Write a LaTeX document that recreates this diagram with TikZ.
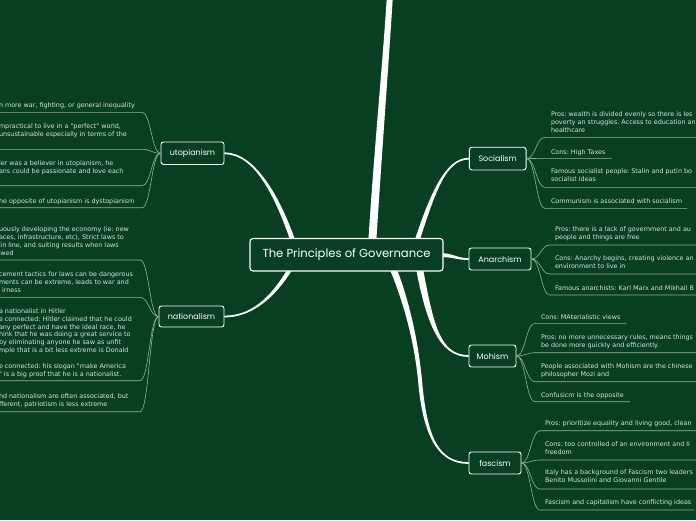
\documentclass[tikz,border=0pt]{standalone}
\usepackage{fontspec}
\setmainfont{DejaVu Sans}
\newfontfamily\itemfont{DejaVu Sans}
\newfontfamily\labelfont{Poppins}
\usetikzlibrary{calc}
\definecolor{bgcol}{RGB}{7,63,32}
\definecolor{txtcol}{RGB}{218,226,218}
\definecolor{brcol}{RGB}{150,176,156}
\pgfdeclarelayer{bglayer}
\pgfdeclarelayer{linelayer}
\pgfsetlayers{bglayer,linelayer,main}
\newcommand{\mmband}[6]{\fill[mainline] ($(#1)+(#5)$) .. controls ($(#2)+(#5)$) and ($(#3)+(#6)$) .. ($(#4)+(#6)$) -- ($(#4)-(#6)$) .. controls ($(#3)-(#6)$) and ($(#2)-(#5)$) .. ($(#1)-(#5)$) -- cycle;}
\newcommand{\leftbranch}[4]{\coordinate (#2a) at (#4,#3); \coordinate (#2b) at (-5,#3);
  \draw[branch] (#1.west) .. controls +(-9,0) and +(9,0) .. (#2a) -- (#2b);}
\newcommand{\rightbranch}[5]{\coordinate (#2a) at (#4,#3); \coordinate (#2b) at (#5,#3);
  \draw[branch] (#1.east) .. controls +(9,0) and +(-9,0) .. (#2a) -- (#2b);}
\begin{document}
\frenchspacing
\begin{tikzpicture}[x=1pt,y=-1pt,
  itemtext/.style={anchor=north west, inner sep=0pt, outer sep=0pt, align=left, text=txtcol,
    font=\itemfont\fontsize{6.4}{7.85}\selectfont\frenchspacing, execute at begin node=\strut},
  topic/.style={draw=white, line width=0.9pt, rounded corners=2.5pt, fill=bgcol, text=white,
    inner sep=0pt, font=\labelfont\fontsize{8}{9}\selectfont},
  branch/.style={draw=brcol, line width=0.6pt},
  mainline/.style={fill=white}]
\useasboundingbox (0,0) rectangle (696,520);
\begin{pgfonlayer}{bglayer}
\fill[bgcol] (0,0) rectangle (696,520);
\end{pgfonlayer}

% topic nodes
\node[topic, line width=1.1pt, rounded corners=3pt, minimum width=193pt, minimum height=32.5pt,
  font=\labelfont\fontsize{11.6}{13}\selectfont] (ctr) at (346.5,254.75) {The Principles of Governance};
\node[topic, minimum width=63pt, minimum height=22.5pt] (uto) at (192.5,153.25) {utopianism};
\node[topic, minimum width=65pt, minimum height=21pt] (nat) at (191.5,316.5) {nationalism};
\node[topic, minimum width=56.7pt, minimum height=22.7pt] (soc) at (497.7,158.6) {Socialism};
\node[topic, minimum width=62pt, minimum height=22pt] (ana) at (500,259) {Anarchism};
\node[topic, minimum width=47pt, minimum height=22pt] (moh) at (492.5,356) {Mohism};
\node[topic, minimum width=52pt, minimum height=22pt] (fas) at (495,463) {fascism};

% main connectors (tapered)
\begin{pgfonlayer}{linelayer}
\coordinate (topend) at (390,-6);
\coordinate (cTop) at (372,246);
\coordinate (cU) at (294,244);
\coordinate (cN) at (292,266);
\coordinate (cS) at (416,244);
\coordinate (cA) at (438,255);
\coordinate (cM) at (419,266);
\coordinate (cF) at (392,266);
\mmband{cTop}{378,150}{386,60}{topend}{4,0}{3,0}
\mmband{cU}{278,197}{255,153.25}{uto.east}{2.5,0}{0,-0.9}
\mmband{cN}{272,300}{250,316.5}{nat.east}{-2.5,0}{0,-0.9}
\mmband{cS}{432,195}{445,158.6}{soc.west}{2.5,0}{0,0.9}
\mmband{cA}{455,255}{455,259}{ana.west}{0,2}{0,0.9}
\mmband{cM}{430,325}{440,356}{moh.west}{-3.5,0}{0,0.9}
\fill[mainline] ($(cF)+(-3.5,0)$) .. controls (398.5,290) and (413,330) .. (418,380)
  .. controls (423,440) and (440,463.9) .. ($(fas.west)+(0,0.9)$) -- ($(fas.west)-(0,0.9)$)
  .. controls (440,462.1) and (427,440) .. (422,380)
  .. controls (417,330) and (405.5,290) .. ($(cF)+(3.5,0)$) -- cycle;
\end{pgfonlayer}

% branches
\leftbranch{uto}{u1}{112.3}{142}
\leftbranch{uto}{u2}{149.3}{142}
\leftbranch{uto}{u3}{185.7}{142}
\leftbranch{uto}{u4}{207.7}{142}
\leftbranch{nat}{n1}{260}{140}
\leftbranch{nat}{n2}{297.3}{140}
\leftbranch{nat}{n3}{380.7}{140}
\leftbranch{nat}{n4}{411.7}{140}
\rightbranch{soc}{s1}{137.3}{545}{700}
\rightbranch{soc}{s2}{158.3}{545}{611.7}
\rightbranch{soc}{s3}{187.3}{545}{700}
\rightbranch{soc}{s4}{208.3}{545}{687}
\rightbranch{ana}{a1}{245}{550}{700}
\rightbranch{ana}{a2}{274}{550}{700}
\rightbranch{ana}{a3}{295}{550}{700}
\rightbranch{moh}{m1}{323.3}{535}{626.7}
\rightbranch{moh}{m2}{352.7}{535}{700}
\rightbranch{moh}{m3}{381.7}{535}{700}
\rightbranch{moh}{m4}{401.7}{535}{630}
\rightbranch{fas}{f1}{430.7}{540}{700}
\rightbranch{fas}{f2}{460}{540}{700}
\rightbranch{fas}{f3}{489}{540}{700}
\rightbranch{fas}{f4}{510}{540}{694}

% left texts
\node[itemtext] (tu1) at (-1,102.5) {n more war, fighting, or general inequality};
\node[itemtext] (tu2) at (-1,124.1) {mpractical to live in a "perfect" world,\\unsustainable especially in terms of the};
\node[itemtext] (tu3) at (-1,160.8) {ier was a believer in utopianism, he\\ans could be passionate and love each};
\node[itemtext] (tu4) at (-1,197.8) {he opposite of utopianism is dystopianism};
\node[itemtext] (tn1) at (-1,226.8) {uously developing the economy (ie: new\\aces, infrastructure, etc), Strict laws to\\\hspace*{1.5pt}in line, and suiting results when laws\\\hspace*{1.5pt}wed};
\node[itemtext] (tn2) at (-1,271.8) {cement tactics for laws can be dangerous\\ments can be extreme, leads to war and\\\hspace*{3pt}irness};
\node[itemtext] (tn3) at (-1,308.5) {a nationalist in Hitler\\e connected: Hitler claimed that he could\\any perfect and have the ideal race, he\\hink that he was doing a great service to\\by eliminating anyone he saw as unfit\\mple that is a bit less extreme is Donald\\\strut\\e connected: his slogan "make America\\" is a big proof that he is a nationalist.};
\node[itemtext] (tn4) at (-1,393.5) {nd nationalism are often associated, but\\fferent, patriotism is less extreme};

% right texts
\node[itemtext] (ts1) at (551,111.8) {Pros: wealth is divided evenly so there is les\\poverty an struggles. Access to education an\\healthcare};
\node[itemtext] (ts2) at (551,148.5) {Cons: High Taxes};
\node[itemtext] (ts3) at (551,169.1) {Famous socialist people: Stalin and putin bo\\socialist ideas};
\node[itemtext] (ts4) at (551,197.8) {Communism is associated with socialism};
\node[itemtext] (ta1) at (555,226.8) {Pros: there is a lack of government and au\\people and things are free};
\node[itemtext] (ta2) at (555,255.8) {Cons: Anarchy begins, creating violence an\\environment to live in};
\node[itemtext] (ta3) at (555,284.5) {Famous anarchists: Karl Marx and Mikhail B};
\node[itemtext] (tm1) at (541,313.5) {Cons: MAterialistic views};
\node[itemtext] (tm2) at (541,335.1) {Pros: no more unnecessary rules, means things\\be done more quickly and efficiently.};
\node[itemtext] (tm3) at (541,364.1) {People associated with Mohism are the chinese\\philosopher Mozi and};
\node[itemtext] (tm4) at (541,391.8) {Confusicm is the opposite};
\node[itemtext] (tf1) at (545,420.1) {Pros: prioritize equality and living good, clean};
\node[itemtext] (tf2) at (545,441.8) {Cons: too controlled of an environment and li\\freedom};
\node[itemtext] (tf3) at (545,470.1) {Italy has a background of Fascism two leaders\\Benito Mussolini and Giovanni Gentile};
\node[itemtext] (tf4) at (545,499.1) {Fascism and capitalism have conflicting ideas};
\end{tikzpicture}
\end{document}
